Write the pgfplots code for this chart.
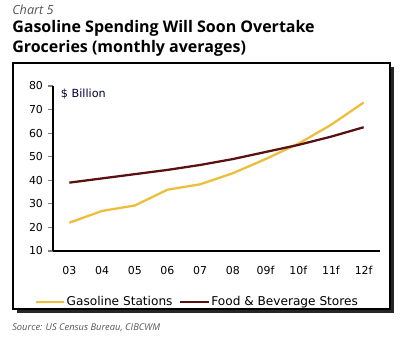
\documentclass[border=0pt]{standalone}
\usepackage{pgfplots}
\pgfplotsset{compat=1.18}
\usepackage{fontspec}
\setmainfont{DejaVu Sans}
\newfontfamily\titlefont{Open Sans}
\definecolor{gas}{HTML}{EDBE3A}
\definecolor{food}{HTML}{5A1010}
\definecolor{srcgray}{HTML}{555555}
\begin{document}
\begin{tikzpicture}[x=0.75pt,y=-0.75pt]
\path (0,0) rectangle (400,341);
\fill[black!85] (17,67) rectangle (394,313);
\draw[black,line width=0.8pt,fill=white] (13,63) rectangle (390,309);
\node[anchor=base west,inner sep=0,font=\titlefont\itshape\fontsize{9.5}{11}\selectfont,text=srcgray] at (12,15) {Chart 5};
\node[anchor=base west,inner sep=0,font=\titlefont\bfseries\fontsize{12}{14}\selectfont] at (12,33) {Gasoline Spending Will Soon Overtake};
\node[anchor=base west,inner sep=0,font=\titlefont\bfseries\fontsize{12}{14}\selectfont] at (12,53) {Groceries (monthly averages)};
\node[anchor=base west,inner sep=0,font=\titlefont\itshape\fontsize{7}{8}\selectfont,text=srcgray] at (12,331) {Source: US Census Bureau, CIBCWM};
\coordinate (A) at (53,251);
\begin{axis}[
  at={(A)}, anchor=south west,
  scale only axis, width=245.25pt, height=123.75pt,
  axis x line*=bottom, axis y line*=left,
  axis line style={line width=0.8pt},
  xmin=-0.5, xmax=9.5, ymin=10, ymax=80,
  ytick={10,20,...,80},
  xtick={0,...,9},
  xticklabels={03,04,05,06,07,08,09f,10f,11f,12f},
  extra x ticks={0.5,1.5,...,8.5,9.5},
  extra x tick labels={},
  extra x tick style={major tick length=4pt, tick style={line width=0.8pt}},
  x tick style={draw=none},
  y tick style={line width=0.8pt},
  major tick length=4pt,
  tick align=outside,
  ticklabel style={font=\fontsize{8.2}{10}\selectfont},
  xticklabel style={yshift=-4pt},
  /pgf/number format/assume math mode=true,
  legend style={at={(0.44,-0.309)}, anchor=center, draw=none, fill=none,
    legend columns=2, font=\fontsize{9.1}{11}\selectfont,
    /tikz/every odd column/.append style={column sep=0pt},
    /tikz/every even column/.append style={column sep=4pt},
    nodes={inner xsep=1pt}},
  legend image code/.code={\draw[#1,line width=1.8pt] (-0.45cm,0) -- (0.3cm,0);},
  clip=false,
]
\addplot[gas, line width=1.7pt] coordinates {(0,22) (1,27) (2,29.3) (3,36) (4,38.3) (5,43) (6,49) (7,55.5) (8,63.5) (9,73)};
\addlegendentry{Gasoline Stations}
\addplot[food, line width=1.7pt] coordinates {(0,39) (1,40.8) (2,42.6) (3,44.4) (4,46.5) (5,49) (6,52) (7,55) (8,58.5) (9,62.5)};
\addlegendentry{Food \& Beverage Stores}
\node[anchor=west,font=\fontsize{8.4}{10}\selectfont,text=black!80!blue] at (axis cs:-0.4,76.5) {\$ Billion};
\end{axis}
\end{tikzpicture}
\end{document}
